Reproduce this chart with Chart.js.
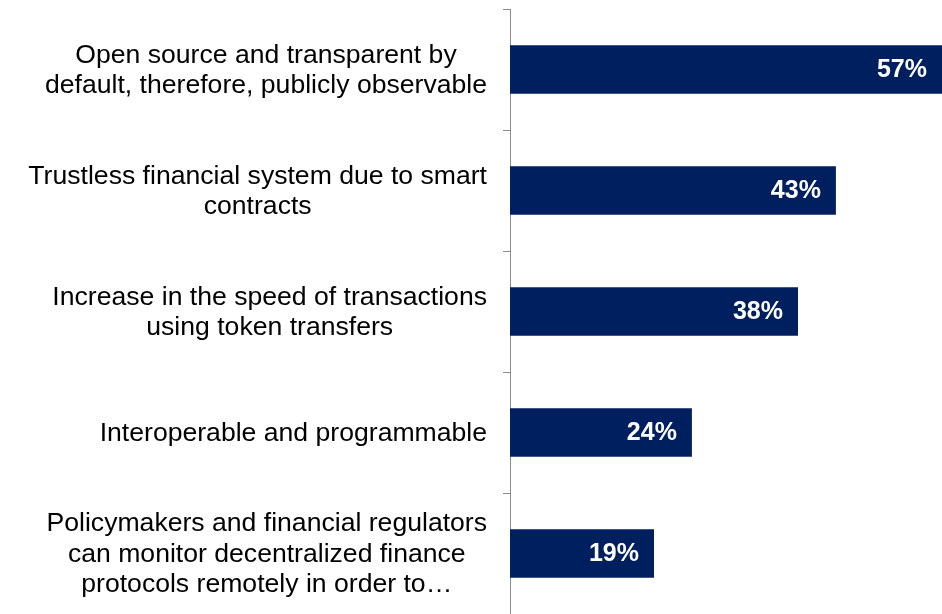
<!DOCTYPE html>
<html>
<head>
<meta charset="utf-8">
<script src="https://cdn.jsdelivr.net/npm/chart.js@4.4.0/dist/chart.umd.min.js"></script>
<style>
html,body{margin:0;padding:0;background:#fff;}
#wrap{width:942px;height:614px;position:relative;}
</style>
</head>
<body>
<div id="wrap"><canvas id="c" width="942" height="614"></canvas></div>
<script>
const categories = [
  ["Open source and transparent by", "default, therefore, publicly observable"],
  ["Trustless financial system due to smart", "contracts"],
  ["Increase in the speed of transactions", "using token transfers"],
  ["Interoperable and programmable"],
  ["Policymakers and financial regulators", "can monitor decentralized finance", "protocols remotely in order to\u2026"]
];
const values = [57, 43, 38, 24, 19];
const valueLabels = ["57%", "43%", "38%", "24%", "19%"];

const LABEL_FONT = '26.6px "Liberation Sans", Arial, sans-serif';
const VALUE_FONT = 'bold 25px "Liberation Sans", Arial, sans-serif';

const textPlugin = {
  id: 'textPlugin',
  afterDatasetsDraw(chart) {
    const ctx = chart.ctx;
    const y = chart.scales.y;
    const meta = chart.getDatasetMeta(0);
    ctx.save();
    ctx.font = LABEL_FONT;
    ctx.fillStyle = '#000000';
    ctx.textAlign = 'center';
    ctx.textBaseline = 'middle';
    const lh = 30.5;
    categories.forEach((lines, i) => {
      const cy = y.getPixelForValue(i);
      let maxW = 0;
      lines.forEach(l => { maxW = Math.max(maxW, ctx.measureText(l).width); });
      const cx = 487 - maxW / 2;
      const start = cy - (lines.length - 1) * lh / 2;
      lines.forEach((l, k) => ctx.fillText(l, cx, start + k * lh + 1));
    });
    ctx.font = VALUE_FONT;
    ctx.fillStyle = '#ffffff';
    ctx.textAlign = 'right';
    meta.data.forEach((bar, i) => {
      ctx.fillText(valueLabels[i], Math.min(bar.x, chart.chartArea.right) - 15, bar.y + 1);
    });
    ctx.restore();
  }
};

new Chart(document.getElementById('c'), {
  type: 'bar',
  data: {
    labels: categories,
    datasets: [{
      data: values,
      backgroundColor: '#001F5F',
      borderWidth: 0,
      barPercentage: 0.4,
      categoryPercentage: 1.0
    }]
  },
  options: {
    indexAxis: 'y',
    responsive: false,
    animation: false,
    layout: { padding: { top: 9, left: 0, right: 0, bottom: 0 } },
    plugins: { legend: { display: false }, tooltip: { enabled: false } },
    scales: {
      x: { display: false, min: 0, max: 57 },
      y: {
        display: true,
        offset: true,
        border: { display: true, color: '#8c8c8c', width: 1 },
        grid: { display: true, drawOnChartArea: false, drawTicks: true, tickLength: 7, color: '#8c8c8c', offset: true },
        ticks: { display: false },
        afterFit(scale) { scale.width = 510; }
      }
    }
  },
  plugins: [textPlugin]
});
</script>
</body>
</html>
